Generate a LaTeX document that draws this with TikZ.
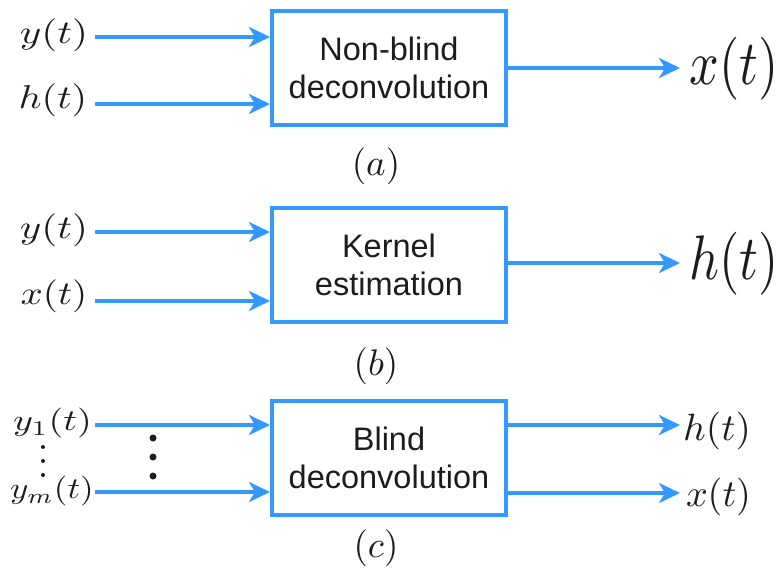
\documentclass[tikz,border=0pt]{standalone}
\usepackage{fontspec}
\usepackage{graphicx}
\usetikzlibrary{arrows.meta}
\newfontfamily\boxfont{Liberation Sans}

\definecolor{flowblue}{RGB}{51,153,255}
\definecolor{inkgrey}{RGB}{28,28,28}

% math label stretched to a given width/height factor
\newcommand{\mlab}[3]{\scalebox{#1}[#2]{$#3$}}

\tikzset{
  blockbox/.style={draw=flowblue, line width=4pt, minimum width=234pt,
    minimum height=114pt, inner sep=0pt, align=center, text=inkgrey,
    font=\boxfont\fontsize{32.5}{38}\selectfont},
  flow/.style={draw=flowblue, line width=3.5pt,
    -{Stealth[length=21pt,width=20pt,inset=6pt]}},
  mathlab/.style={inner sep=0pt, text=inkgrey},
  vdot/.style={fill=inkgrey},
}

\begin{document}
\begin{tikzpicture}[x=1pt,y=-1pt]
  \useasboundingbox (0,0) rectangle (782,572);

  % ---------------- (a) non-blind deconvolution ----------------
  \node[blockbox] (boxa) at (389,68) {Non-blind\\deconvolution};
  \node[mathlab] (ya) at (54,35) {\mlab{4.1}{3.3}{y(t)}};
  \node[mathlab] (ha) at (53,100.5) {\mlab{4.0}{3.3}{h(t)}};
  \node[mathlab] (xa) at (734,68.5) {\mlab{5.2}{6.3}{x(t)}};
  \node[mathlab] (capa) at (376,166) {\mlab{3.7}{3.7}{(a)}};
  \coordinate (ina1) at (95,37);
  \coordinate (ina2) at (95,104);
  \coordinate (outa) at (680,68);
  \draw[flow] (ina1) -- (ina1 -| boxa.west);
  \draw[flow] (ina2) -- (ina2 -| boxa.west);
  \draw[flow] (outa -| boxa.east) -- (outa);

  % ---------------- (b) kernel estimation ----------------
  \node[blockbox] (boxb) at (389,265) {Kernel\\estimation};
  \node[mathlab] (yb) at (54,230) {\mlab{4.1}{3.3}{y(t)}};
  \node[mathlab] (xb) at (54,296) {\mlab{3.9}{3.3}{x(t)}};
  \node[mathlab] (hb) at (734,264) {\mlab{5.2}{6.3}{h(t)}};
  \node[mathlab] (capb) at (376,366) {\mlab{3.7}{3.7}{(b)}};
  \coordinate (inb1) at (95,232);
  \coordinate (inb2) at (95,301);
  \coordinate (outb) at (680,263);
  \draw[flow] (inb1) -- (inb1 -| boxb.west);
  \draw[flow] (inb2) -- (inb2 -| boxb.west);
  \draw[flow] (outb -| boxb.east) -- (outb);

  % ---------------- (c) blind deconvolution ----------------
  \node[blockbox] (boxc) at (389,458) {Blind\\deconvolution};
  \node[mathlab] (y1c) at (52.5,423) {\mlab{3.8}{3.0}{y_1(t)}};
  \node[mathlab] (ymc) at (52,491) {\mlab{3.5}{3.0}{y_m(t)}};
  \node[mathlab] (hc) at (717,431) {\mlab{3.95}{3.8}{h(t)}};
  \node[mathlab] (xc) at (718.5,497) {\mlab{3.8}{3.8}{x(t)}};
  \node[mathlab] (capc) at (376,548) {\mlab{3.7}{3.7}{(c)}};
  \coordinate (inc1) at (95,425);
  \coordinate (inc2) at (95,492);
  \coordinate (outc1) at (680,425);
  \coordinate (outc2) at (680,493);
  \draw[flow] (inc1) -- (inc1 -| boxc.west);
  \draw[flow] (inc2) -- (inc2 -| boxc.west);
  \draw[flow] (outc1 -| boxc.east) -- (outc1);
  \draw[flow] (outc2 -| boxc.east) -- (outc2);

  % vertical ellipses between the inputs
  \foreach \yy in {447,461,475} \fill[vdot] (43,\yy) circle (2);
  \foreach \yy in {438,457,476} \fill[vdot] (153,\yy) circle (3.5);
\end{tikzpicture}
\end{document}
